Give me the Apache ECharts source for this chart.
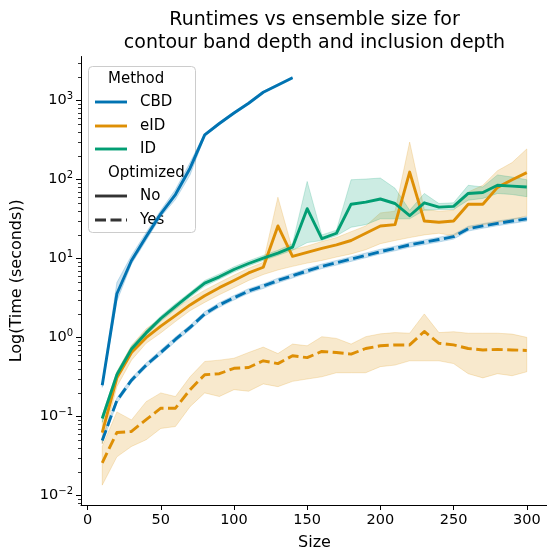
<!DOCTYPE html>
<html>
<head>
<meta charset="utf-8">
<title>Runtimes vs ensemble size</title>
<script src="https://cdn.jsdelivr.net/npm/echarts@6.0.0/dist/echarts.min.js"></script>
<style>
    html, body { margin: 0; padding: 0; background: #fff; }
    #chart { width: 547px; height: 554px; }
</style>
</head>
<body>
<div id="chart"></div>
<script>
// ensemble sizes (x) and runtimes in seconds (y)
const sizes = [10, 20, 30, 40, 50, 60, 70, 80, 90, 100, 110, 120, 130, 140, 150,
    160, 170, 180, 190, 200, 210, 220, 230, 240, 250, 260, 270, 280, 290, 300];
const cbdSizes = [10, 20, 30, 40, 50, 60, 70, 80, 90, 100, 110, 120, 130, 140];

const cbdNo   = [0.25, 3.6, 9.5, 19, 37, 65, 140, 370, 515, 700, 930, 1280, 1580, 1950];
const cbdNoLo = [0.235, 2.9, 8.6, 17, 34, 56, 115, 355, 495, 675, 900, 1240, 1530, 1890];
const cbdNoHi = [0.265, 5.0, 11, 21.5, 41, 75, 165, 385, 535, 725, 960, 1320, 1630, 2010];

const cbdYes   = [0.05, 0.16, 0.29, 0.45, 0.65, 0.95, 1.35, 2.0, 2.6, 3.2, 3.9, 4.5, 5.3, 6.1, 7.0,
    8.0, 8.9, 9.9, 11, 12.3, 13.5, 15, 16.2, 17.5, 19, 24, 26, 28, 30, 32];
const cbdYesLo = [0.046, 0.148, 0.27, 0.42, 0.61, 0.89, 1.26, 1.87, 2.43, 3.0, 3.65, 4.2, 4.95, 5.7, 6.55,
    7.5, 8.3, 9.25, 10.3, 11.5, 12.6, 14, 15.1, 16.3, 17.7, 22.4, 24.3, 26.2, 28, 29.9];
const cbdYesHi = [0.054, 0.172, 0.31, 0.48, 0.7, 1.02, 1.44, 2.14, 2.78, 3.42, 4.17, 4.8, 5.67, 6.5, 7.5,
    8.55, 9.5, 10.6, 11.8, 13.2, 14.4, 16, 17.3, 18.7, 20.3, 25.7, 27.8, 30, 32, 34.2];

const eidNo   = [0.063, 0.31, 0.65, 1.0, 1.4, 1.9, 2.6, 3.4, 4.3, 5.3, 6.6, 7.8, 26, 10.7, 12,
    13.5, 15, 17, 21, 26, 27, 125, 30, 29, 30, 49, 49, 80, 100, 123];
const eidNoLo = [0.045, 0.24, 0.52, 0.85, 1.15, 1.6, 2.2, 2.8, 3.5, 4.3, 5.3, 6.3, 7.2, 8.0, 8.8,
    9.5, 10.5, 11.5, 13, 15.5, 17, 18.5, 20, 21, 19.5, 24, 27, 29, 31, 35];
const eidNoHi = [0.085, 0.37, 0.8, 1.3, 1.75, 2.35, 3.1, 4.0, 5.0, 6.2, 7.6, 9.0, 60, 13, 14.5,
    16.5, 18.5, 22, 26, 38, 40, 300, 42, 40, 41, 70, 85, 130, 165, 245];

const eidYes   = [0.026, 0.063, 0.065, 0.092, 0.128, 0.128, 0.22, 0.34, 0.35, 0.41, 0.42, 0.51, 0.47, 0.59, 0.56,
    0.67, 0.65, 0.62, 0.73, 0.79, 0.81, 0.81, 1.2, 0.85, 0.81, 0.73, 0.70, 0.71, 0.70, 0.69];
const eidYesLo = [0.0136, 0.031, 0.042, 0.051, 0.071, 0.075, 0.134, 0.2, 0.18, 0.22, 0.21, 0.26, 0.24, 0.28, 0.30,
    0.32, 0.36, 0.36, 0.36, 0.43, 0.45, 0.51, 0.51, 0.51, 0.47, 0.35, 0.31, 0.35, 0.33, 0.37];
const eidYesHi = [0.042, 0.115, 0.091, 0.155, 0.2, 0.18, 0.32, 0.5, 0.52, 0.55, 0.65, 0.76, 0.63, 0.83, 0.79,
    1.03, 0.98, 0.83, 1.03, 1.12, 1.16, 1.14, 2.0, 1.16, 1.19, 1.14, 1.14, 1.14, 1.11, 1.01];

const idNo   = [0.095, 0.34, 0.72, 1.15, 1.75, 2.5, 3.5, 4.9, 5.9, 7.3, 8.7, 10.2, 11.8, 14, 43,
    18, 21, 49, 52, 57, 50, 35, 51, 45, 46, 67, 69, 85, 83, 81];
const idNoLo = [0.085, 0.31, 0.66, 1.07, 1.62, 2.3, 3.25, 4.5, 5.5, 6.8, 8.1, 9.5, 11, 12.8, 16,
    17, 19.5, 25, 27, 32, 32, 32, 41, 42, 42, 55, 58, 67, 65, 61];
const idNoHi = [0.105, 0.37, 0.78, 1.24, 1.88, 2.7, 3.75, 5.3, 6.4, 7.9, 9.4, 11, 12.8, 15.5, 95,
    20, 23, 100, 102, 105, 78, 41, 67, 50, 51, 85, 81, 115, 108, 100];

// axis ticks
const xTicks = [0, 50, 100, 150, 200, 250, 300];
const yExponents = [-2, -1, 0, 1, 2, 3];

const FONT = 'DejaVu Sans';
const BLUE = '#0173b2';
const ORANGE = '#de8f05';
const GREEN = '#029e73';
const GREY = '#333333';
const DASH = [11, 4.5];
const LW = 2.9;
const LEGEND_FONT = '15px "DejaVu Sans"';

// y is plotted as log10(seconds)
const Y_MIN = -2.118;
const Y_MAX = 3.56;

const minorExps = [];
for (let e = -3; e <= 3; e++) {
    for (let k = 2; k <= 9; k++) {
        const v = e + Math.log10(k);
        if (v > Y_MIN && v < Y_MAX) minorExps.push(v);
    }
}

function logPairs(xs, vals) {
    return xs.map(function (x, i) { return [x, Math.log10(vals[i])]; });
}

function band(xs, lo, hi, color) {
    const pts = xs.map(function (x, i) { return [x, Math.log10(lo[i]), Math.log10(hi[i])]; });
    return {
        type: 'custom',
        data: pts,
        encode: { x: 0, y: [1, 2] },
        silent: true,
        renderItem: function (params, api) {
            if (params.dataIndex !== 0) return null;
            const upper = pts.map(function (p) { return api.coord([p[0], p[2]]); });
            const lower = pts.map(function (p) { return api.coord([p[0], p[1]]); }).reverse();
            return {
                type: 'polygon',
                shape: { points: upper.concat(lower) },
                style: { fill: color, stroke: color, lineWidth: 1, opacity: 0.2 }
            };
        }
    };
}

function line(xs, vals, color, dashed) {
    return {
        type: 'line',
        data: logPairs(xs, vals),
        showSymbol: false,
        symbol: 'none',
        silent: true,
        lineStyle: { color: color, width: LW, type: dashed ? DASH : 'solid', cap: 'butt', join: 'round' },
        itemStyle: { color: color }
    };
}

function supLabel(v) {
    const e = Math.round(v);
    return '{b|10}{s|' + (e < 0 ? '\u2212' + (-e) : e) + '}';
}

function legendText(text, x, y) {
    return { type: 'text', x: x, y: y, style: { text: text, font: LEGEND_FONT, fill: '#000', verticalAlign: 'middle' } };
}

function legendLine(y, color, dashed) {
    const style = { stroke: color, lineWidth: LW };
    if (dashed) style.lineDash = DASH;
    return { type: 'line', shape: { x1: 95, y1: y, x2: 127, y2: y }, style: style };
}

const legendGraphics = [
    { type: 'rect', shape: { x: 88.5, y: 66.5, width: 107, height: 166, r: 4 },
      style: { fill: 'rgba(255,255,255,0.8)', stroke: '#cccccc', lineWidth: 1 } },
    legendText('Method', 108, 79),
    legendLine(102, BLUE, false),
    legendText('CBD', 140, 102),
    legendLine(126, ORANGE, false),
    legendText('eID', 140, 126),
    legendLine(149, GREEN, false),
    legendText('ID', 140, 149),
    legendText('Optimized', 108, 173),
    legendLine(196, GREY, false),
    legendText('No', 140, 196),
    legendLine(220, GREY, true),
    legendText('Yes', 140, 220)
];

const chart = echarts.init(document.getElementById('chart'), null, { renderer: 'canvas' });

chart.setOption({
    animation: false,
    backgroundColor: '#ffffff',
    textStyle: { fontFamily: FONT },
    grid: { left: 81, top: 56.5, right: -1, bottom: 49, outerBoundsMode: 'none' },
    graphic: [
        { type: 'text', x: 314.5, y: 8.5, z: 100,
          style: { text: 'Runtimes vs ensemble size for\ncontour band depth and inclusion depth',
                   font: '19px "DejaVu Sans"', lineHeight: 23, fill: '#000', align: 'center' } },
        { type: 'group', z: 100, children: legendGraphics }
    ],
    xAxis: {
        type: 'value',
        min: -4.5,
        max: 314.5,
        name: 'Size',
        nameLocation: 'middle',
        nameGap: 30,
        nameTextStyle: { fontSize: 16, color: '#000', fontFamily: FONT },
        axisLine: { show: true, onZero: false, lineStyle: { color: '#000', width: 1 } },
        axisTick: { show: true, length: 5, customValues: xTicks, lineStyle: { color: '#000', width: 1 } },
        axisLabel: { customValues: xTicks, fontSize: 14.5, color: '#000', margin: 8, fontFamily: FONT },
        splitLine: { show: false }
    },
    yAxis: [
        {
            type: 'value',
            min: Y_MIN,
            max: Y_MAX,
            position: 'left',
            name: 'Log(Time (seconds))',
            nameLocation: 'middle',
            nameGap: 56,
            nameTextStyle: { fontSize: 16, color: '#000', fontFamily: FONT },
            axisLine: { show: true, onZero: false, lineStyle: { color: '#000', width: 1 } },
            axisTick: { show: true, length: 5, customValues: yExponents, lineStyle: { color: '#000', width: 1 } },
            axisLabel: {
                customValues: yExponents,
                margin: 8,
                formatter: supLabel,
                rich: {
                    b: { fontSize: 14.5, color: '#000', fontFamily: FONT, lineHeight: 18 },
                    s: { fontSize: 10, color: '#000', fontFamily: FONT, verticalAlign: 'top', lineHeight: 10 }
                }
            },
            splitLine: { show: false }
        },
        {
            type: 'value',
            min: Y_MIN,
            max: Y_MAX,
            position: 'left',
            axisLine: { show: false, onZero: false },
            axisTick: { show: true, length: 3, customValues: minorExps, lineStyle: { color: '#000', width: 0.8 } },
            axisLabel: { show: false },
            splitLine: { show: false }
        }
    ],
    series: [
        band(cbdSizes, cbdNoLo, cbdNoHi, BLUE),
        line(cbdSizes, cbdNo, BLUE, false),
        band(sizes, cbdYesLo, cbdYesHi, BLUE),
        line(sizes, cbdYes, BLUE, true),
        band(sizes, eidNoLo, eidNoHi, ORANGE),
        line(sizes, eidNo, ORANGE, false),
        band(sizes, eidYesLo, eidYesHi, ORANGE),
        line(sizes, eidYes, ORANGE, true),
        band(sizes, idNoLo, idNoHi, GREEN),
        line(sizes, idNo, GREEN, false)
    ]
});
</script>
</body>
</html>
